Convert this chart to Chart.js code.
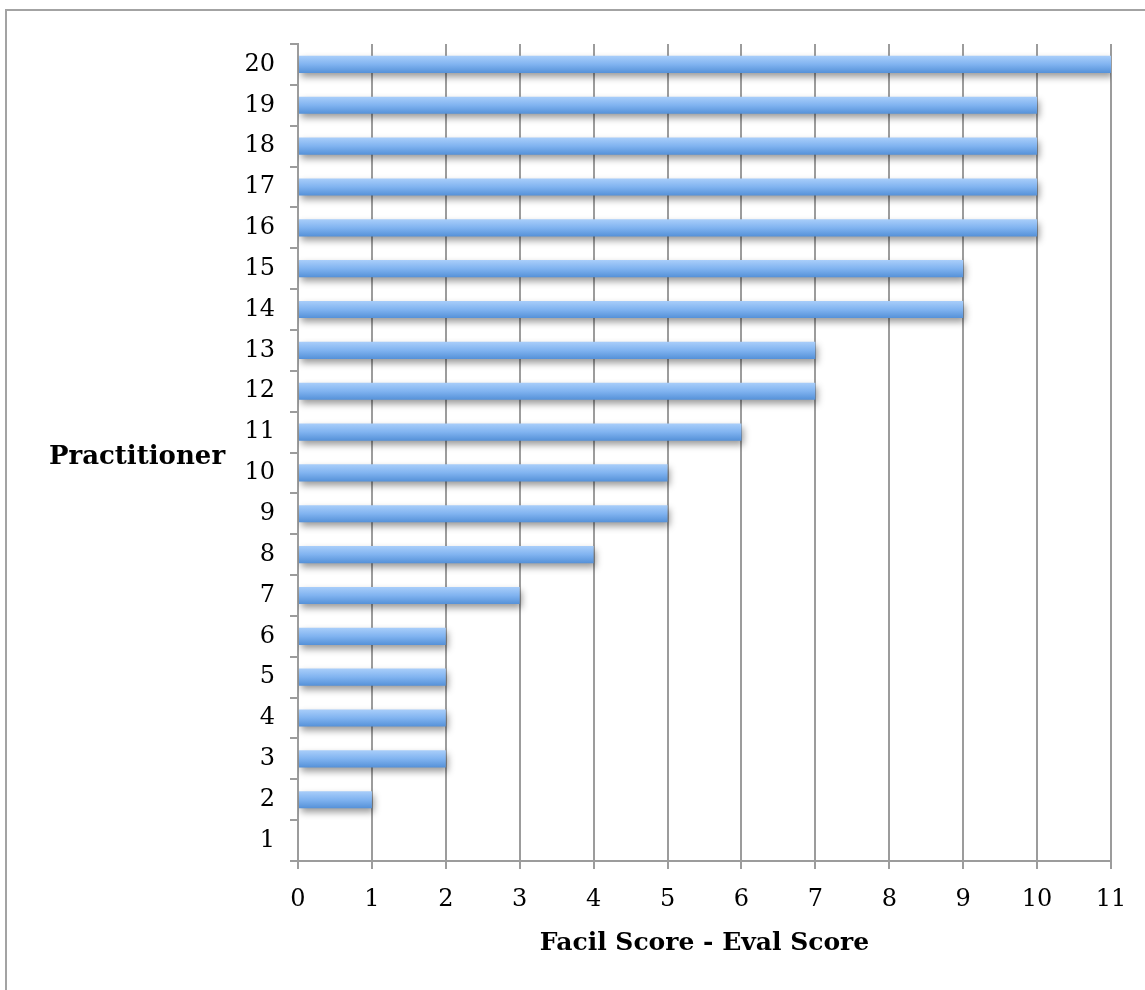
<!DOCTYPE html>
<html>
<head>
<meta charset="utf-8">
<script src="https://cdn.jsdelivr.net/npm/chart.js@4/dist/chart.umd.min.js"></script>
<style>
  html, body { margin: 0; padding: 0; background: #fff; overflow: hidden; }
  #frame {
    position: absolute; left: 5px; top: 9px; width: 3000px; height: 3000px;
    border-left: 2px solid #a3a3a3; border-top: 2px solid #a3a3a3;
  }
  #chart { position: absolute; left: 0; top: 0; }
</style>
</head>
<body>
<div id="frame"></div>
<canvas id="chart" width="1145" height="990"></canvas>
<script>
// practitioners 1..20 and their score difference
const practitioners = ['1', '2', '3', '4', '5', '6', '7', '8', '9', '10',
  '11', '12', '13', '14', '15', '16', '17', '18', '19', '20'];
const scoreDiff = [0, 1, 2, 2, 2, 2, 3, 4, 5, 5, 6, 7, 7, 9, 9, 10, 10, 10, 10, 11];
const xMin = 0;
const xMax = 11;

const xTitle = 'Facil Score - Eval Score';
const yTitle = 'Practitioner';

const gridGray = '#9c9c9c';
const serif = 'DejaVu Serif';

const catPct = 0.6;
const barPct = 0.7;

// vertical blue gradient for each bar, built from the y scale
function barFill(ctx) {
  const chart = ctx.chart;
  const y = chart.scales.y;
  if (!chart.chartArea || !y) return '#7fb1ec';
  const mid = y.getPixelForValue(ctx.dataIndex);
  const half = (y.height / practitioners.length) * catPct * barPct / 2;
  const g = chart.ctx.createLinearGradient(0, mid - half, 0, mid + half);
  g.addColorStop(0, '#a9cefa');
  g.addColorStop(0.5, '#80b3f0');
  g.addColorStop(1, '#5591d8');
  return g;
}

// soft drop shadow under the bars
const barShadow = {
  id: 'barShadow',
  beforeDatasetsDraw(chart) {
    const c = chart.ctx;
    c.save();
    c.shadowColor = 'rgba(0,0,0,0.4)';
    c.shadowBlur = 7;
    c.shadowOffsetX = 2;
    c.shadowOffsetY = 4;
  },
  afterDatasetsDraw(chart) {
    chart.ctx.restore();
  }
};

// horizontal y title to the left of the tick labels
const sideTitle = {
  id: 'sideTitle',
  afterDraw(chart) {
    const { ctx, chartArea } = chart;
    ctx.save();
    ctx.font = 'bold 26px "' + serif + '"';
    ctx.fillStyle = '#000';
    ctx.textAlign = 'center';
    ctx.textBaseline = 'middle';
    ctx.fillText(yTitle, chartArea.left - 161, (chartArea.top + chartArea.bottom) / 2 + 5);
    ctx.restore();
  }
};

new Chart(document.getElementById('chart'), {
  type: 'bar',
  data: {
    labels: practitioners,
    datasets: [{
      data: scoreDiff,
      backgroundColor: barFill,
      borderWidth: 0,
      categoryPercentage: catPct,
      barPercentage: barPct
    }]
  },
  options: {
    indexAxis: 'y',
    responsive: false,
    animation: false,
    events: [],
    layout: { padding: { top: 44, right: 34, left: 0, bottom: 0 } },
    plugins: {
      legend: { display: false },
      tooltip: { enabled: false }
    },
    scales: {
      x: {
        min: xMin,
        max: xMax,
        ticks: { stepSize: 1, color: '#000', padding: 16, font: { family: serif, size: 24 } },
        grid: { color: gridGray, lineWidth: 2, tickLength: 8, drawTicks: true },
        border: { color: gridGray, width: 2 },
        title: {
          display: true,
          text: xTitle,
          color: '#000',
          font: { family: serif, size: 25, weight: 'bold' },
          padding: { top: 0, bottom: 32 }
        },
        afterFit(s) { s.height = 129; }
      },
      y: {
        reverse: true,
        ticks: { color: '#000', padding: 15, font: { family: serif, size: 24 } },
        grid: { color: gridGray, lineWidth: 2, tickLength: 8, drawOnChartArea: false, offset: true },
        border: { color: gridGray, width: 2 },
        afterFit(s) { s.width = 298; }
      }
    }
  },
  plugins: [barShadow, sideTitle]
});
</script>
</body>
</html>
